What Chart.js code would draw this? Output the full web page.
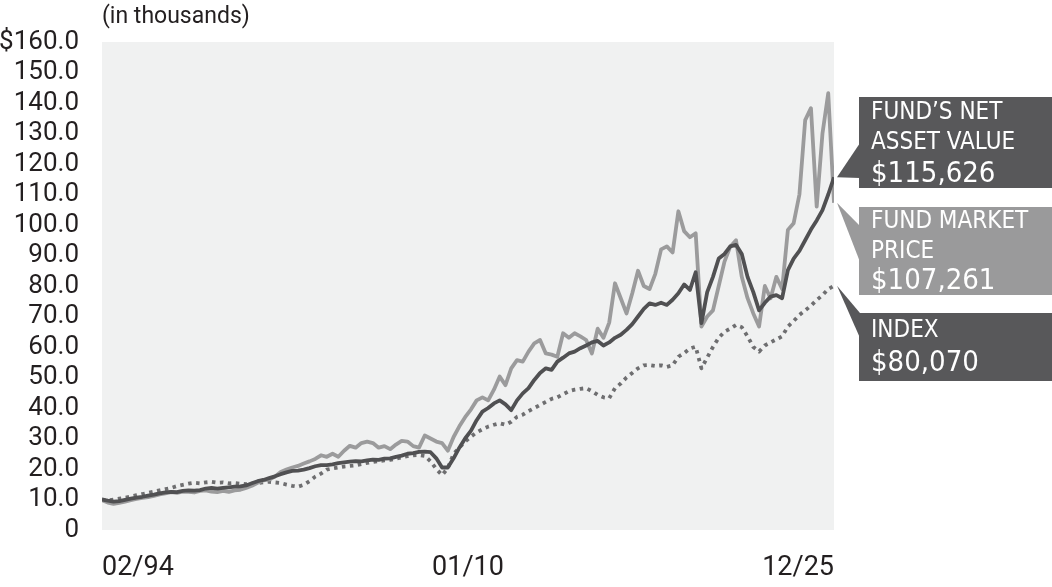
<!DOCTYPE html>
<html>
<head>
<meta charset="utf-8">
<script src="https://cdn.jsdelivr.net/npm/chart.js@4"></script>
<style>
  html, body { margin: 0; padding: 0; background: #fff; }
  #wrap { width: 1052px; height: 587px; position: relative; }
</style>
</head>
<body>
<div id="wrap"><canvas id="js-chart-growth"></canvas></div>
<script>
// Quarterly values (in thousands), 02/94 .. 12/25
const navValues = [
  10.0, 9.6, 9.3, 9.5, 9.9, 10.3, 10.6, 10.9, 11.3, 11.6,
  12.0, 12.3, 12.5, 12.4, 12.8, 13.0, 12.9, 13.1, 13.6, 13.8,
  13.6, 13.8, 14.0, 14.2, 14.3, 14.6, 15.3, 16.0, 16.4, 17.0,
  17.6, 18.3, 18.9, 19.4, 19.5, 19.8, 20.3, 20.9, 21.3, 21.3,
  21.5, 21.9, 22.2, 22.4, 22.6, 22.5, 22.8, 23.1, 23.0, 23.4,
  23.5, 24.0, 24.4, 25.0, 25.2, 25.6, 25.7, 25.5, 23.5, 20.5,
  20.5, 23.5, 27.0, 30.0, 32.5, 36.0, 38.8, 40.0, 41.5, 42.5,
  41.2, 39.3, 42.5, 44.8, 46.5, 49.2, 51.5, 53.0, 52.5, 55.2,
  56.5, 57.9, 58.5, 59.6, 60.5, 61.5, 62.0, 60.5, 61.5, 63.0,
  64.0, 65.6, 67.5, 70.0, 72.5, 74.3, 73.8, 74.5, 73.8, 75.5,
  77.6, 80.5, 78.7, 84.5, 67.8, 78.0, 83.0, 89.0, 90.5, 93.0,
  93.5, 90.5, 83.0, 78.0, 72.0, 74.5, 76.5, 77.0, 76.0, 85.2,
  89.0, 91.5, 95.0, 98.5, 101.5, 104.9, 110.0, 115.626
];
const marketValues = [
  9.8, 9.0, 8.6, 8.9, 9.3, 9.8, 10.2, 10.5, 10.8, 11.2,
  11.7, 12.0, 12.4, 12.2, 12.6, 12.5, 12.3, 12.8, 13.0, 12.6,
  12.4, 12.8, 12.5, 13.0, 13.2, 13.8, 14.5, 15.5, 16.3, 16.5,
  17.5, 19.0, 19.8, 20.5, 21.0, 21.8, 22.5, 23.3, 24.5, 24.0,
  25.0, 24.0, 26.0, 27.6, 27.0, 28.5, 29.0, 28.5, 27.0, 27.5,
  26.5, 28.0, 29.2, 29.0, 27.5, 27.0, 31.0, 30.0, 29.0, 28.5,
  26.0, 30.5, 34.0, 37.0, 39.5, 42.5, 43.5, 42.5, 46.0, 50.3,
  47.5, 53.0, 55.7, 55.2, 58.5, 61.2, 62.3, 57.9, 57.5, 56.8,
  64.5, 63.0, 64.5, 63.5, 62.3, 57.9, 66.0, 63.0, 68.0, 80.9,
  76.0, 71.0, 77.6, 85.0, 80.0, 79.0, 84.0, 92.0, 93.0, 91.0,
  104.5, 98.0, 96.0, 97.3, 66.7, 70.0, 72.0, 80.0, 88.0, 92.9,
  95.0, 83.0, 76.0, 71.0, 66.7, 80.0, 76.0, 83.0, 79.0, 98.4,
  100.6, 110.0, 134.4, 138.3, 106.0, 130.0, 143.2, 107.261
];
const indexValues = [
  10.0, 9.7, 10.0, 10.3, 10.6, 11.0, 11.4, 11.8, 12.2, 12.6,
  13.0, 13.4, 13.8, 14.4, 14.8, 15.2, 15.5, 15.3, 15.6, 15.8,
  15.5, 15.6, 15.3, 15.4, 15.2, 15.0, 15.2, 15.4, 15.6, 15.8,
  15.6, 15.4, 14.9, 14.5, 14.2, 14.8, 16.0, 17.5, 18.5, 19.8,
  20.2, 20.5, 20.8, 21.0, 21.2, 21.6, 22.0, 22.3, 22.6, 22.8,
  23.0, 23.4, 23.8, 24.2, 24.5, 24.6, 24.3, 22.5, 20.0, 18.0,
  20.3, 25.0, 27.0, 29.0, 30.6, 32.0, 33.0, 33.9, 34.5, 35.0,
  34.5, 35.5, 37.1, 37.8, 39.0, 40.0, 41.0, 42.0, 43.0, 43.5,
  44.5, 45.5, 46.0, 46.3, 46.5, 45.5, 44.3, 43.5, 43.2, 46.5,
  48.0, 50.0, 51.5, 53.0, 54.0, 54.1, 53.8, 54.0, 53.5, 54.0,
  56.8, 58.0, 59.5, 60.1, 53.0, 56.5, 60.0, 63.0, 65.0, 66.0,
  67.2, 66.5, 63.5, 60.0, 58.5, 60.5, 61.5, 62.5, 63.5, 66.7,
  68.5, 70.5, 72.0, 73.5, 75.4, 77.0, 79.0, 80.07
];

// x axis: months since 02/94, labels shown at three dates
const totalMonths = 382;
const tickMonths = [0, 191, 382];
const tickLabels = ['02/94', '01/10', '12/25'];
const yTicks = [0, 10, 20, 30, 40, 50, 60, 70, 80, 90, 100, 110, 120, 130, 140, 150, 160];

// Callout boxes on the right
const calloutLines = [
  ['FUND\u2019S NET', 'ASSET VALUE', '$115,626'],
  ['FUND MARKET', 'PRICE', '$107,261'],
  ['INDEX', '$80,070']
];

function toPoints(values) {
  let n = values.length;
  return values.map((v, i) => ({ x: i * totalMonths / (n - 1), y: v }));
}

const plotBg = {
  id: 'plotBg',
  beforeDraw(chart) {
    let { ctx, chartArea: a } = chart;
    ctx.save();
    ctx.fillStyle = '#f0f1f1';
    ctx.fillRect(a.left, a.top, a.right - a.left, a.bottom - a.top);
    ctx.fillStyle = '#231f20';
    ctx.font = '23px Roboto';
    ctx.textBaseline = 'middle';
    ctx.textAlign = 'left';
    ctx.fillText('(in thousands)', 102, 17);
    ctx.restore();
  }
};

const callouts = {
  id: 'callouts',
  afterDraw(chart) {
    let ctx = chart.ctx;
    let boxes = [
      { ds: 0, top: 97, bottom: 188, color: '#58585a', base: [143, 178], lines: [113, 143, 174] },
      { ds: 1, top: 207, bottom: 295, color: '#9a9a9b', base: [226, 262], lines: [222, 252, 281] },
      { ds: 2, top: 313, bottom: 381, color: '#58585a', base: [313, 338], lines: [331, 363] }
    ];
    ctx.save();
    boxes.forEach((b, k) => {
      let pts = chart.getDatasetMeta(b.ds).data;
      let p = pts[pts.length - 1];
      ctx.fillStyle = b.color;
      ctx.beginPath();
      ctx.moveTo(p.x + 3, p.y);
      ctx.lineTo(860, b.base[0]);
      ctx.lineTo(860, b.base[1]);
      ctx.closePath();
      ctx.fill();
      ctx.fillRect(859, b.top, 1052 - 859, b.bottom - b.top);
      ctx.fillStyle = '#ffffff';
      ctx.textAlign = 'left';
      ctx.textBaseline = 'middle';
      let lines = calloutLines[k];
      lines.forEach((t, j) => {
        let big = j === lines.length - 1;
        ctx.font = big ? '29px "Liberation Sans Narrow", "DejaVu Sans Condensed", sans-serif'
                       : '24px "Liberation Sans Narrow", "DejaVu Sans Condensed", sans-serif';
        ctx.fillText(t, 871, b.lines[j]);
      });
    });
    ctx.restore();
  }
};

let chartGrowth = new Chart(document.getElementById('js-chart-growth'), {
  type: 'line',
  data: {
    datasets: [
      {
        label: 'Fund\u2019s Net Asset Value',
        data: toPoints(navValues),
        borderColor: '#505052',
        borderWidth: 3.8,
        order: 1
      },
      {
        label: 'Fund Market Price',
        data: toPoints(marketValues),
        borderColor: '#9b9b9c',
        borderWidth: 3.8,
        order: 2
      },
      {
        label: 'Index',
        data: toPoints(indexValues),
        borderColor: '#6e6e70',
        borderWidth: 3.8,
        borderDash: [3.5, 4.5],
        borderCapStyle: 'butt',
        order: 3
      }
    ]
  },
  options: {
    responsive: true,
    maintainAspectRatio: false,
    animation: false,
    events: [],
    layout: { padding: { top: 42, right: 218, left: 0, bottom: 0 } },
    elements: {
      point: { radius: 0 },
      line: { tension: 0, borderJoinStyle: 'round' }
    },
    scales: {
      x: {
        type: 'linear',
        min: 0,
        max: totalMonths,
        grid: { display: false },
        border: { display: false },
        afterBuildTicks: (axis) => { axis.ticks = tickMonths.map(v => ({ value: v })); },
        afterFit: (axis) => { axis.height = 57; },
        ticks: {
          align: 'inner',
          maxRotation: 0,
          autoSkip: false,
          padding: 14,
          color: '#231f20',
          font: { family: 'Roboto', size: 27 },
          callback: (v) => tickLabels[tickMonths.indexOf(v)]
        }
      },
      y: {
        min: 0,
        max: 160,
        grid: { display: false },
        border: { display: false },
        afterBuildTicks: (axis) => { axis.ticks = yTicks.map(v => ({ value: v })); },
        afterFit: (axis) => { axis.width = 102; },
        ticks: {
          autoSkip: false,
          padding: 15,
          color: '#231f20',
          font: { family: 'Roboto', size: 26, lineHeight: 1 },
          callback: (v) => v === 0 ? '0' : (v === 160 ? '$160.0' : v.toFixed(1))
        }
      }
    },
    plugins: {
      legend: { display: false },
      tooltip: { enabled: false }
    }
  },
  plugins: [plotBg, callouts]
});
</script>
</body>
</html>
